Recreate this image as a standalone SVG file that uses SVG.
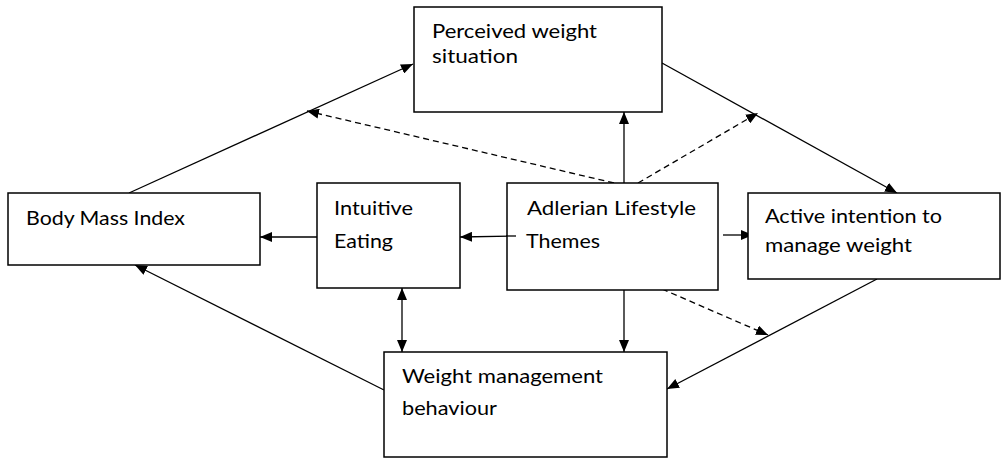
<svg xmlns="http://www.w3.org/2000/svg" width="1002" height="458" viewBox="0 0 1002 458">
<style>
.box{fill:#fff;stroke:#000;stroke-width:1.5}
.lbl{font-family:Lato,"Open Sans",sans-serif;font-size:20px;fill:#000}
.ln{fill:none;stroke:#000;stroke-width:1.3}
.dash{stroke-dasharray:6 4}
</style>
<defs>
<marker id="ah" viewBox="0 0 12 10" refX="12" refY="5" markerWidth="12" markerHeight="10" markerUnits="userSpaceOnUse" orient="auto-start-reverse">
<path d="M0,0 L12,5 L0,10 Z" fill="#000"/>
</marker>
</defs>
<rect width="1002" height="458" fill="#fff"/>
<g id="connectors">
<path class="ln" d="M129,193 L413,64" marker-end="url(#ah)"/>
<path class="ln dash" d="M614,183 L307,111" marker-end="url(#ah)"/>
<path class="ln" d="M624,183 L624,112" marker-end="url(#ah)"/>
<path class="ln dash" d="M638,183 L758,113" marker-end="url(#ah)"/>
<path class="ln" d="M662,63 L897,193" marker-end="url(#ah)"/>
<path class="ln" d="M516,236 L460,237" marker-end="url(#ah)"/>
<path class="ln" d="M317,237 L260,237" marker-end="url(#ah)"/>
<path class="ln" d="M723,235 L753,235" marker-end="url(#ah)"/>
<path class="ln" d="M402,288 L402,352" marker-start="url(#ah)" marker-end="url(#ah)"/>
<path class="ln" d="M384,390 L135,265" marker-end="url(#ah)"/>
<path class="ln" d="M624,290 L624,352" marker-end="url(#ah)"/>
<path class="ln dash" d="M662,289 L768,335" marker-end="url(#ah)"/>
<path class="ln" d="M877,279 L667,389" marker-end="url(#ah)"/>
</g>
<g id="perceived">
<rect class="box" x="414" y="7" width="248" height="105"/>
<text class="lbl" x="432" y="38" textLength="165" lengthAdjust="spacingAndGlyphs">Perceived weight</text>
<text class="lbl" x="432" y="63" textLength="86" lengthAdjust="spacingAndGlyphs">situation</text>
</g>
<g id="bmi">
<rect class="box" x="8" y="193" width="252" height="72"/>
<text class="lbl" x="26" y="225" textLength="159" lengthAdjust="spacingAndGlyphs">Body Mass Index</text>
</g>
<g id="intuitive">
<rect class="box" x="317" y="183" width="143" height="105"/>
<text class="lbl" x="334" y="215" textLength="79" lengthAdjust="spacingAndGlyphs">Intuitive</text>
<text class="lbl" x="334" y="248" textLength="59" lengthAdjust="spacingAndGlyphs">Eating</text>
</g>
<g id="adlerian">
<rect class="box" x="507" y="183" width="211" height="107"/>
<text class="lbl" x="527" y="215" textLength="169" lengthAdjust="spacingAndGlyphs">Adlerian Lifestyle</text>
<text class="lbl" x="526" y="248" textLength="74" lengthAdjust="spacingAndGlyphs">Themes</text>
</g>
<g id="active">
<rect class="box" x="748" y="193" width="252" height="86"/>
<text class="lbl" x="765" y="223" textLength="177" lengthAdjust="spacingAndGlyphs">Active intention to</text>
<text class="lbl" x="765" y="252" textLength="147" lengthAdjust="spacingAndGlyphs">manage weight</text>
</g>
<g id="weightmgmt">
<rect class="box" x="384" y="352" width="283" height="105"/>
<text class="lbl" x="402" y="383" textLength="201" lengthAdjust="spacingAndGlyphs">Weight management</text>
<text class="lbl" x="402" y="415" textLength="95" lengthAdjust="spacingAndGlyphs">behaviour</text>
</g>
<g id="overlay">
<path class="ln" d="M516,236 L506,236"/>
</g>
</svg>
